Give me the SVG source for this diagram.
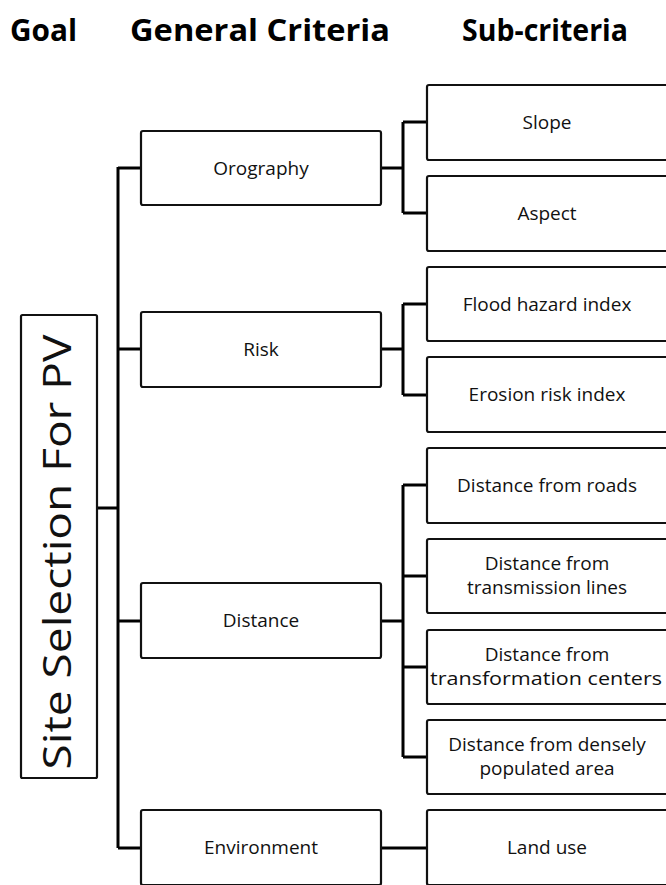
<svg xmlns="http://www.w3.org/2000/svg" width="666" height="885" viewBox="0 0 666 885">
<style>
.box{fill:#fff;stroke:#111;stroke-width:2.2}
.lbl{font-family:"Open Sans","Liberation Sans",sans-serif;font-size:19px;fill:#111;text-anchor:middle}
.hdr{font-family:"Open Sans","Liberation Sans",sans-serif;font-size:31px;font-weight:bold;fill:#000}
.con{fill:none;stroke:#000;stroke-width:3}
</style>
<rect width="666" height="885" fill="#fff"/>
<g id="headers">
<text class="hdr" x="10" y="41" textLength="67" lengthAdjust="spacingAndGlyphs">Goal</text>
<text class="hdr" x="130" y="41" textLength="260" lengthAdjust="spacingAndGlyphs">General Criteria</text>
<text class="hdr" x="462" y="41" textLength="166" lengthAdjust="spacingAndGlyphs">Sub-criteria</text>
</g>
<g id="connectors">
<path class="con" d="M97 508H118M118 167V848M118 168H141M118 349H141M118 621H141M118 848H141"/>
<path class="con" d="M381 168H403M403 122V213M403 122H427M403 213H427"/>
<path class="con" d="M381 349H403M403 304V395M403 304H427M403 395H427"/>
<path class="con" d="M381 621H403M403 485V757M403 485H427M403 576H427M403 667H427M403 757H427"/>
<path class="con" d="M381 848H427"/>
</g>
<g id="goal">
<rect class="box" x="21" y="315" width="76" height="463" rx="1.5"/>
<text class="lbl" transform="translate(71 552) rotate(-90)" style="font-size:39px" textLength="435" lengthAdjust="spacingAndGlyphs">Site Selection For PV</text>
</g>
<g id="orography"><rect class="box" x="141" y="131" width="240" height="74" rx="2"/><text class="lbl" x="261" y="175">Orography</text></g>
<g id="risk"><rect class="box" x="141" y="312" width="240" height="75" rx="2"/><text class="lbl" x="261" y="356">Risk</text></g>
<g id="distance"><rect class="box" x="141" y="583" width="240" height="75" rx="2"/><text class="lbl" x="261" y="627">Distance</text></g>
<g id="environment"><rect class="box" x="141" y="810" width="240" height="75" rx="2"/><text class="lbl" x="261" y="854">Environment</text></g>
<g id="slope"><rect class="box" x="427" y="85" width="242" height="75" rx="2"/><text class="lbl" x="547" y="129">Slope</text></g>
<g id="aspect"><rect class="box" x="427" y="176" width="242" height="75" rx="2"/><text class="lbl" x="547" y="220">Aspect</text></g>
<g id="flood"><rect class="box" x="427" y="267" width="242" height="74" rx="2"/><text class="lbl" x="547" y="311">Flood hazard index</text></g>
<g id="erosion"><rect class="box" x="427" y="357" width="242" height="75" rx="2"/><text class="lbl" x="547" y="401">Erosion risk index</text></g>
<g id="roads"><rect class="box" x="427" y="448" width="242" height="75" rx="2"/><text class="lbl" x="547" y="492">Distance from roads</text></g>
<g id="transmission"><rect class="box" x="427" y="539" width="242" height="74" rx="2"/><text class="lbl" x="547" y="570">Distance from</text><text class="lbl" x="547" y="594">transmission lines</text></g>
<g id="transformation"><rect class="box" x="427" y="630" width="242" height="74" rx="2"/><text class="lbl" x="547" y="661">Distance from</text><text class="lbl" x="546" y="685" textLength="232" lengthAdjust="spacingAndGlyphs">transformation centers</text></g>
<g id="populated"><rect class="box" x="427" y="720" width="242" height="74" rx="2"/><text class="lbl" x="547" y="751">Distance from densely</text><text class="lbl" x="547" y="775">populated area</text></g>
<g id="landuse"><rect class="box" x="427" y="810" width="242" height="75" rx="2"/><text class="lbl" x="547" y="854">Land use</text></g>
</svg>
